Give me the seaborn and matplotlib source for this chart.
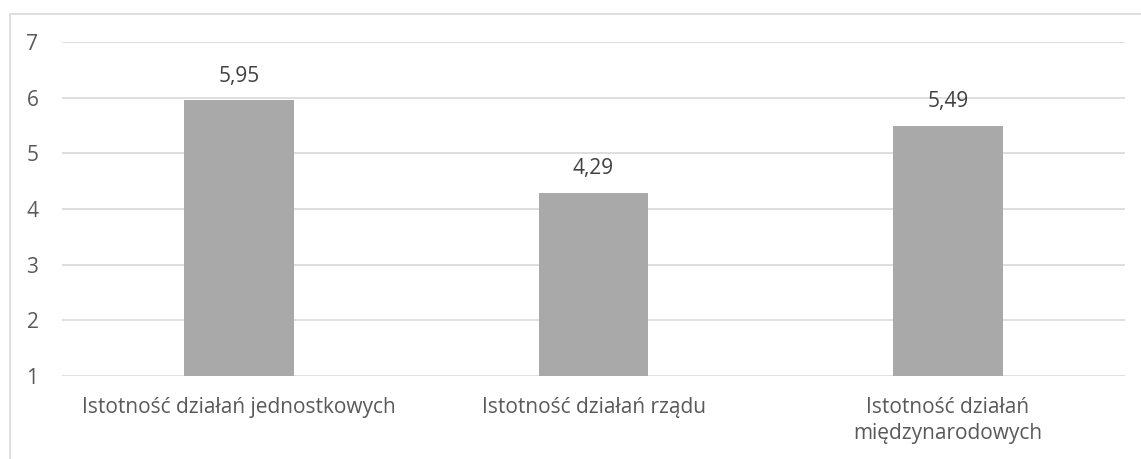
import matplotlib
matplotlib.use("Agg")
import matplotlib.pyplot as plt
import seaborn as sns
import pandas as pd
from matplotlib.lines import Line2D

categories = ["Istotność działań jednostkowych", "Istotność działań rządu", "Istotność działań\nmiędzynarodowych"]
values = [5.95, 4.29, 5.49]
value_labels = ["5,95", "4,29", "5,49"]
y_ticks = [1, 2, 3, 4, 5, 6, 7]

sns.set_theme(style="white")
plt.rcParams['font.family'] = ['Open Sans', 'DejaVu Sans']

W, H = 1141, 459
fig = plt.figure(figsize=(W / 100, H / 100), dpi=100)
ax = fig.add_axes([62 / W, 1 - 376 / H, (1125 - 62) / W, (376 - 42) / H])

df = pd.DataFrame({"cat": categories, "val": values})
sns.barplot(data=df, x="cat", y="val", color="#A9A9A9", saturation=1, width=0.31, ax=ax, zorder=3)
for p in ax.patches:
    p.set_y(1)
    p.set_height(p.get_height() - 1)
    p.set_edgecolor("none")

ax.set_ylim(1, 7)
ax.set_yticks(y_ticks)
ax.set_yticklabels([str(t) for t in y_ticks])
ax.yaxis.grid(True, color="#D9D9D9", linewidth=1.2, zorder=0)
ax.set_axisbelow(True)
for s in ax.spines.values():
    s.set_visible(False)
ax.set_xlabel("")
ax.set_ylabel("")
ax.tick_params(axis="both", length=0, labelsize=15, colors="#595959")
ax.tick_params(axis="y", pad=17)
ax.tick_params(axis="x", pad=15)
for lab in ax.get_xticklabels():
    lab.set_linespacing(1.35)

for i, (v, t) in enumerate(zip(values, value_labels)):
    ax.annotate(t, (i, v), xytext=(0, 10), textcoords="offset points", ha="center", va="bottom",
                fontsize=15, color="#404040")

# outer chart frame
fig.add_artist(Line2D([10 / W, 10 / W], [0, 1 - 14 / H], transform=fig.transFigure, color="#D9D9D9", linewidth=1.2))
fig.add_artist(Line2D([10 / W, 1], [1 - 14 / H, 1 - 14 / H], transform=fig.transFigure, color="#D9D9D9", linewidth=1.2))

fig.savefig("out.png", dpi=100)
